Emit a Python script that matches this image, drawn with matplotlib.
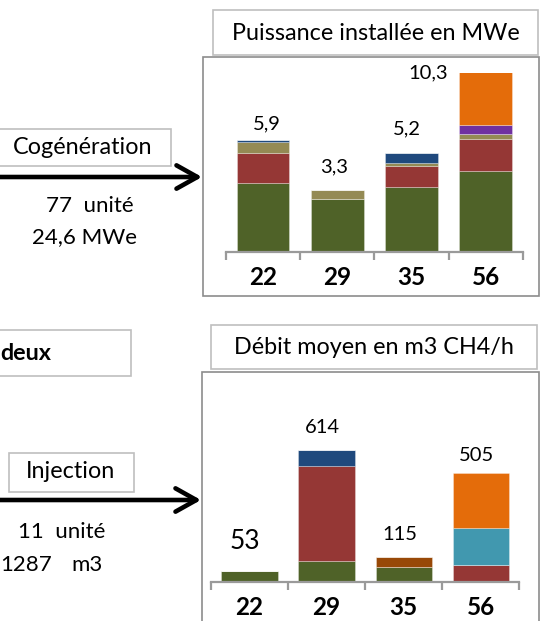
import matplotlib
matplotlib.use("Agg")
import matplotlib.pyplot as plt
from matplotlib.patches import Rectangle, FancyArrowPatch

#################
# Data
#################
categories = ["22", "29", "35", "56"]

# Puissance installée en MWe (stack from bottom to top)
mwe_green = [3.62, 2.8, 3.45, 4.29]
mwe_red = [1.58, 0.0, 1.10, 1.68]
mwe_khaki = [0.61, 0.5, 0.15, 0.25]
mwe_blue = [0.09, 0.0, 0.50, 0.0]
mwe_purple = [0.0, 0.0, 0.0, 0.49]
mwe_orange = [0.0, 0.0, 0.0, 3.59]
mwe_labels = ["5,9", "3,3", "5,2", "10,3"]

# Débit moyen en m3 CH4/h
deb_green = [53, 97, 69, 0]
deb_red = [0, 444, 0, 80]
deb_blue = [0, 73, 0, 0]
deb_brown = [0, 0, 46, 0]
deb_teal = [0, 0, 0, 174]
deb_orange = [0, 0, 0, 251]
deb_labels = ["53", "614", "115", "505"]

#################
# Configurations
#################
W, H = 540, 621
FONT = "Lato"
plt.rcParams['font.family'] = [FONT, 'DejaVu Sans']

C_GREEN = "#4f6228"
C_RED = "#953735"
C_KHAKI = "#948a54"
C_BLUE = "#1f497d"
C_PURPLE = "#7030a0"
C_ORANGE = "#e46c0a"
C_TEAL = "#4198af"
C_BROWN = "#984807"

BOX_FS = 16.8     # texts in the boxes
SIDE_FS = 16      # "77 unité" etc.
TICK_FS = 17.5
LAB_FS = 14.5


def fx(x):
    return x / W


def fy(y):
    return 1 - y / H


def box(fig, x0, y0, x1, y1, ec="#bfbfbf", lw=1.2, z=-1):
    r = Rectangle((fx(x0), fy(y1)), (x1 - x0) / W, (y1 - y0) / H,
                  transform=fig.transFigure, facecolor="white",
                  edgecolor=ec, linewidth=lw, zorder=z)
    fig.add_artist(r)


def arrow(fig, x0, x1, y):
    a = FancyArrowPatch((fx(x0), fy(y)), (fx(x1), fy(y)),
                        transform=fig.transFigure,
                        arrowstyle="->,head_length=0.75,head_width=0.42",
                        mutation_scale=20, linewidth=3.3, color="black",
                        shrinkA=0, shrinkB=0, zorder=3)
    fig.add_artist(a)


def stacked(ax, series, colors, width):
    x = range(len(categories))
    bottom = [0] * len(categories)
    for vals, col in zip(series, colors):
        ax.bar(x, vals, width, bottom=bottom, color=col,
               edgecolor=(1, 1, 1, 0.35), linewidth=0.6)
        bottom = [b + v for b, v in zip(bottom, vals)]
    return bottom


def style_axis(ax, ymax):
    ax.set_xlim(-0.5, len(categories) - 0.5)
    ax.set_ylim(0, ymax)
    ax.patch.set_visible(False)
    for s in ["top", "left", "right"]:
        ax.spines[s].set_visible(False)
    ax.spines["bottom"].set_color("#9a9a9a")
    ax.spines["bottom"].set_linewidth(1.6)
    ax.set_yticks([])
    ax.set_xticks(range(len(categories)))
    ax.set_xticklabels(categories, fontsize=TICK_FS, fontweight="bold")
    ax.set_xticks([i - 0.5 for i in range(len(categories) + 1)], minor=True)
    ax.tick_params(axis="x", which="major", length=0, pad=10)
    ax.tick_params(axis="x", which="minor", length=6, width=1.6,
                   color="#9a9a9a", direction="out")


#################
# Figure
#################
fig = plt.figure(figsize=(W / 100, H / 100), dpi=100)

# ---- top block: cogeneration ----
box(fig, 213, 10, 538, 55)
fig.text(fx(376), fy(33), "Puissance installée en MWe", fontsize=BOX_FS,
         ha="center", va="center")
box(fig, 203, 57, 539, 296, ec="#8c8c8c")

ax1 = fig.add_axes([fx(226), fy(252.3), (522.7 - 226) / W, (252.3 - 72.6) / H])
tops = stacked(ax1, [mwe_green, mwe_red, mwe_khaki, mwe_blue, mwe_purple, mwe_orange],
               [C_GREEN, C_RED, C_KHAKI, C_BLUE, C_PURPLE, C_ORANGE], 0.71)
style_axis(ax1, 9.45)
lab_dx = [4, -3, -5, -57]
lab_dy = [12, 16.5, 18, 0]
for i, (t, lab) in enumerate(zip(tops, mwe_labels)):
    ax1.annotate(lab, (i, min(t, 9.45)), xytext=(lab_dx[i] * 0.72, lab_dy[i]),
                 textcoords="offset points", ha="center", va="center",
                 fontsize=LAB_FS, annotation_clip=False)

box(fig, -5, 129, 171, 166)
fig.text(fx(83), fy(147.5), "Cogénération", fontsize=BOX_FS, ha="center", va="center")
arrow(fig, -5, 202, 177)
fig.text(fx(134), fy(206), "77  unité", fontsize=SIDE_FS, ha="right", va="center")
fig.text(fx(137), fy(237), "24,6 MWe", fontsize=SIDE_FS, ha="right", va="center")

# ---- bottom block: injection ----
box(fig, -5, 330, 131, 376)
fig.text(fx(0.5), fy(353), "deux", fontsize=BOX_FS, fontweight="bold",
         ha="left", va="center")

box(fig, 211, 325, 537, 369)
fig.text(fx(374), fy(347), "Débit moyen en m3 CH4/h", fontsize=BOX_FS,
         ha="center", va="center")
box(fig, 202, 372, 539, 640, ec="#8c8c8c")

ax2 = fig.add_axes([fx(211), fy(582.3), (519.3 - 211) / W, (582.3 - 400) / H])
tops = stacked(ax2, [deb_green, deb_red, deb_blue, deb_brown, deb_teal, deb_orange],
               [C_GREEN, C_RED, C_BLUE, C_BROWN, C_TEAL, C_ORANGE], 0.73)
style_axis(ax2, 845)
lab_dy = [21.5, 16, 16.5, 13]
lab_fs = [19, LAB_FS, LAB_FS, LAB_FS]
for i, (t, lab) in enumerate(zip(tops, deb_labels)):
    ax2.annotate(lab, (i, t), xytext=(-3, lab_dy[i]),
                 textcoords="offset points", ha="center", va="center",
                 fontsize=lab_fs[i], annotation_clip=False)

box(fig, 9, 453, 134, 492)
fig.text(fx(71), fy(471), "Injection", fontsize=BOX_FS, ha="center", va="center")
arrow(fig, -5, 201, 500)
fig.text(fx(105), fy(532), "11  unité", fontsize=SIDE_FS, ha="right", va="center")
fig.text(fx(0), fy(565), "1287", fontsize=SIDE_FS, ha="left", va="center")
fig.text(fx(103), fy(565), "m3", fontsize=SIDE_FS, ha="right", va="center")

fig.savefig("out.png", dpi=100)
